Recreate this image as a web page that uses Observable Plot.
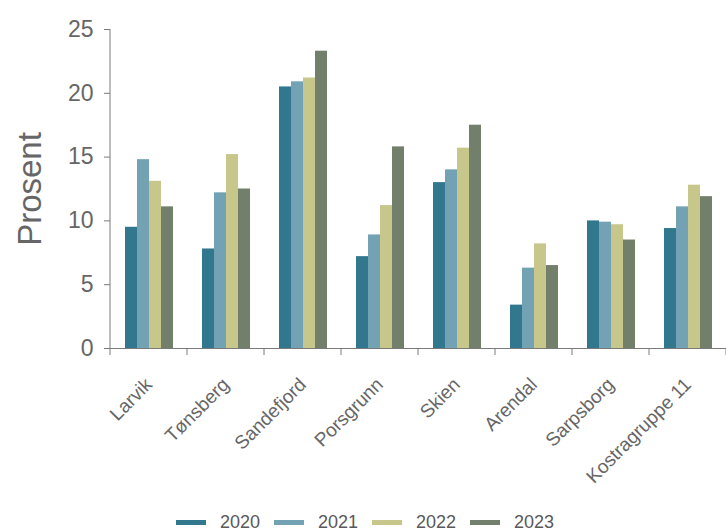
<!DOCTYPE html>
<html><head><meta charset="utf-8">
<script src="https://cdn.jsdelivr.net/npm/d3@7"></script>
<script src="https://cdn.jsdelivr.net/npm/@observablehq/plot@0.6"></script>
<style>
body{margin:0;background:#fff;font-family:"Liberation Sans",Arial,sans-serif;}
#legend{display:flex;justify-content:center;align-items:center;gap:14px;font-size:18px;color:#595959;height:34px;padding-left:4px;}
.item{display:flex;align-items:center;gap:14px}
.sw{width:30px;height:5px}
</style></head><body><div id="chart"></div><div id="legend"></div>
<script>
const categories = ["Larvik","Tønsberg","Sandefjord","Porsgrunn","Skien","Arendal","Sarpsborg","Kostragruppe 11"];
const years = ["2020","2021","2022","2023"];
const v2020 = [9.5, 7.8, 20.5, 7.2, 13.0, 3.4, 10.0, 9.4];
const v2021 = [14.8, 12.2, 20.9, 8.9, 14.0, 6.3, 9.9, 11.1];
const v2022 = [13.1, 15.2, 21.2, 11.2, 15.7, 8.2, 9.7, 12.8];
const v2023 = [11.1, 12.5, 23.3, 15.8, 17.5, 6.5, 8.5, 11.9];
const colors = ["#31788f", "#72a2b4", "#c8c78b", "#717f6b"];
const yTicks = [0, 5, 10, 15, 20, 25];
const yLabel = "Prosent";

const series = [v2020, v2021, v2022, v2023];
const data = categories.flatMap((c, i) => years.map((y, j) => ({category: c, year: y, value: series[j][i]})));

const chart = Plot.plot({
  width: 726, height: 505,
  marginLeft: 110, marginRight: 0, marginTop: 29, marginBottom: 157,
  style: {fontFamily: "'Liberation Sans', Arial, sans-serif", background: "white", color: "#666"},
  fx: {domain: categories, padding: 0, label: null},
  x: {domain: years, paddingInner: 0, paddingOuter: 1.155, axis: null},
  y: {domain: [0, 25]},
  color: {domain: years, range: colors},
  marks: [
    Plot.barY(data, {fx: "category", x: "year", y: "value", fill: "year"}),
    Plot.ruleY([0], {stroke: "#7a7a7a"}),
    Plot.axisY({ticks: yTicks, tickSize: 6, tickPadding: 11, fontSize: 23, label: null, stroke: "#7a7a7a"}),
    Plot.axisFx({anchor: "bottom", tickRotate: -45, tickSize: 0, tickPadding: 33, fontSize: 19, label: null}),
    Plot.text([{category: categories[0]}], {fx: "category", text: () => yLabel, frameAnchor: "left", textAnchor: "middle", rotate: -90, dx: -80, fontSize: 33, fill: "#666"})
  ]
});

// y axis line and boundary tick marks between categories, placed from the plot's scales
const fx = chart.scale("fx");
const y = chart.scale("y");
const y0 = y.apply(0);
const yTop = y.apply(yTicks[yTicks.length - 1]);
const svg = d3.select(chart.tagName === "svg" ? chart : chart.querySelector("svg"));
const bounds = categories.map(c => fx.apply(c)).concat([fx.apply(categories[categories.length - 1]) + fx.step]);
const g = svg.append("g").attr("stroke", "#7a7a7a");
g.selectAll("line").data(bounds).join("line")
  .attr("x1", d => d).attr("x2", d => d).attr("y1", y0).attr("y2", y0 + 7);
g.append("line").attr("x1", bounds[0]).attr("x2", bounds[0]).attr("y1", yTop).attr("y2", y0);

document.getElementById("chart").append(chart);

const legend = d3.select("#legend");
years.forEach((yr, i) => {
  const it = legend.append("div").attr("class", "item");
  it.append("div").attr("class", "sw").style("background", colors[i]);
  it.append("span").text(yr);
});
</script></body></html>
